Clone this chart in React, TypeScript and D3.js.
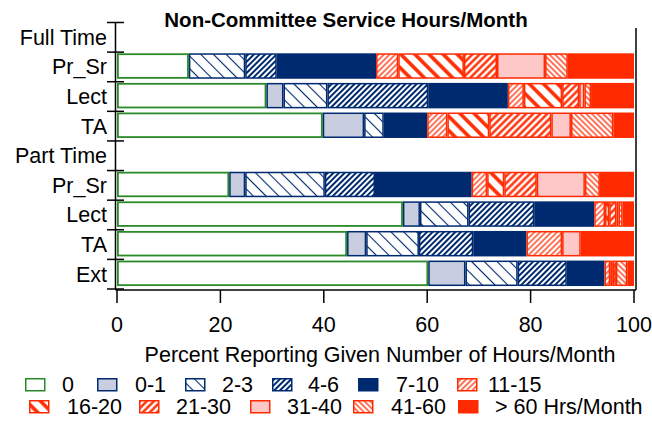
import React from "react";
import * as d3 from "d3";

// categories (top to bottom); the two group headers carry no bars
const rowLabels = ["Full Time", "Pr_Sr", "Lect", "TA", "Part Time", "Pr_Sr", "Lect", "TA", "Ext"];
const bins = ["0", "0-1", "2-3", "4-6", "7-10", "11-15", "16-20", "21-30", "31-40", "41-60", "> 60 Hrs/Month"];

// percent reporting, one value per bin
const ftPrSr = [13.9, 0, 10.9, 6.1, 19.2, 4.3, 12.7, 6.4, 9.3, 4.4, 12.8];
const ftLect = [28.9, 3.3, 8.5, 19.5, 15.4, 3.1, 7.4, 3.3, 1.0, 1.3, 8.3];
const ftTA = [39.8, 8.0, 3.8, 0, 8.4, 3.9, 8.1, 12.0, 3.8, 8.2, 4.0];
const ptPrSr = [21.7, 3.1, 15.4, 9.7, 18.7, 3.0, 3.3, 6.3, 9.3, 2.9, 6.6];
const ptLect = [55.3, 3.3, 9.4, 12.7, 11.6, 2.1, 0.8, 1.4, 0.4, 0.8, 2.2];
const ptTA = [44.5, 3.7, 10.2, 10.5, 10.3, 6.9, 0, 0, 3.6, 0, 10.3];
const ext = [60.2, 7.2, 10.1, 9.5, 7.3, 1.1, 0.5, 0.6, 0, 2.2, 1.3];

const rowValues: (number[] | null)[] = [null, ftPrSr, ftLect, ftTA, null, ptPrSr, ptLect, ptTA, ext];
const xTicks = [0, 20, 40, 60, 80, 100];

const NAVY = "#002a70";
const RED = "#ff2a00";
const GREEN = "#2a8a2a";

// fill + outline per bin
const styles = [
  { fill: "#fff", stroke: GREEN },
  { fill: "#c8cde0", stroke: NAVY },
  { fill: "url(#p23)", stroke: NAVY },
  { fill: "url(#p46)", stroke: NAVY },
  { fill: NAVY, stroke: NAVY },
  { fill: "url(#p1115)", stroke: RED },
  { fill: "url(#p1620)", stroke: RED },
  { fill: "url(#p2130)", stroke: RED },
  { fill: "#ffc8c8", stroke: RED },
  { fill: "url(#p4160)", stroke: RED },
  { fill: RED, stroke: RED },
];

const hatches = [
  { id: "p23", size: 9, angle: -45, color: NAVY, w: 1.1 },
  { id: "p46", size: 4, angle: 45, color: NAVY, w: 2 },
  { id: "p1115", size: 4, angle: 45, color: RED, w: 1.3 },
  { id: "p1620", size: 10, angle: -45, color: RED, w: 3.6 },
  { id: "p2130", size: 5, angle: 45, color: RED, w: 2.4 },
  { id: "p4160", size: 4, angle: -45, color: RED, w: 1.3 },
];

// legend slots: [row, x of swatch, x of label]
const legendPos = [
  [0, 25, 62], [0, 97, 135], [0, 185, 222], [0, 272, 308], [0, 358, 396], [0, 457, 488],
  [1, 29, 67], [1, 139, 176], [1, 250, 287], [1, 353, 391], [1, 458, 495],
];

const W = 652;
const H = 421;
const FONT = "Liberation Sans, Arial, sans-serif";
const FS = 21.5;

export default function App() {
  const x = d3.scaleLinear().domain([0, 100]).range([117, 634]);
  const y = d3.scaleBand<number>().domain(d3.range(rowLabels.length)).range([22.5, 289]).padding(0);
  const step = y.step();
  const bottom = 289;

  return (
    <svg width={W} height={H} style={{ position: "absolute", left: 0, top: 0, background: "#fff" }} fontFamily={FONT}>
      <defs>
        {hatches.map((h) => (
          <pattern key={h.id} id={h.id} patternUnits="userSpaceOnUse" width={h.size} height={h.size}
            patternTransform={`rotate(${h.angle})`}>
            <rect width={h.size} height={h.size} fill="#fff" />
            <line x1={h.size / 2} x2={h.size / 2} y1={0} y2={h.size} stroke={h.color} strokeWidth={h.w} />
          </pattern>
        ))}
      </defs>

      <text x={346} y={27} textAnchor="middle" fontSize={20.5} fontWeight="bold">Non-Committee Service Hours/Month</text>

      {/* bars */}
      {rowValues.map((vals, i) => {
        if (!vals) return null;
        const ends = Array.from(d3.cumsum(vals));
        return (
          <g key={i}>
            {vals.map((v, j) => {
              if (v <= 0) return null;
              const x0 = x(ends[j] - v);
              const x1 = x(ends[j]);
              const sw = j === 0 ? 1.8 : 1.5;
              return (
                <rect key={j} x={x0 + sw / 2} y={y(i)! + step * 0.04 + sw / 2}
                  width={Math.max(x1 - x0 - sw, 0.3)} height={step * 0.86 - sw}
                  fill={styles[j].fill} stroke={styles[j].stroke} strokeWidth={sw} />
              );
            })}
          </g>
        );
      })}

      {/* left axis */}
      <line x1={x(0) - 1.5} x2={x(0) - 1.5} y1={y(0)!} y2={bottom + 1} stroke="#000" strokeWidth={1.5} />
      {d3.range(rowLabels.length + 1).map((i) => {
        const yy = y(0)! + i * step;
        return <line key={i} x1={x(0) - 10} x2={x(0) + 7} y1={yy} y2={yy} stroke="#000" strokeWidth={1.5} />;
      })}
      {rowLabels.map((l, i) => (
        <text key={i} x={107} y={y(i)! + step / 2} dy="0.35em" textAnchor="end" fontSize={FS}>{l}</text>
      ))}
      {/* right frame */}
      <line x1={x(100) + 2} x2={x(100) + 2} y1={28} y2={bottom + 1} stroke="#000" strokeWidth={1.5} />

      {/* bottom axis */}
      <line x1={x(0) - 1.5} x2={x(100) + 2} y1={bottom + 1} y2={bottom + 1} stroke="#000" strokeWidth={1.5} />
      {xTicks.map((t) => (
        <g key={t}>
          <line x1={x(t)} x2={x(t)} y1={bottom + 1} y2={bottom + 14} stroke="#000" strokeWidth={1.5} />
          <text x={x(t)} y={332} textAnchor="middle" fontSize={FS}>{t}</text>
        </g>
      ))}
      <text x={380} y={362} textAnchor="middle" fontSize={FS}>Percent Reporting Given Number of Hours/Month</text>

      {/* legend */}
      {bins.map((b, j) => {
        const [r, sx, lx] = legendPos[j];
        const sy = r === 0 ? 378 : 400;
        return (
          <g key={b}>
            <rect x={sx + 0.75} y={sy + 0.75} width={19} height={12} fill={styles[j].fill}
              stroke={styles[j].stroke} strokeWidth={1.5} />
            <text x={lx} y={sy + 6.5} dy="0.35em" fontSize={FS}>{b}</text>
          </g>
        );
      })}
    </svg>
  );
}
